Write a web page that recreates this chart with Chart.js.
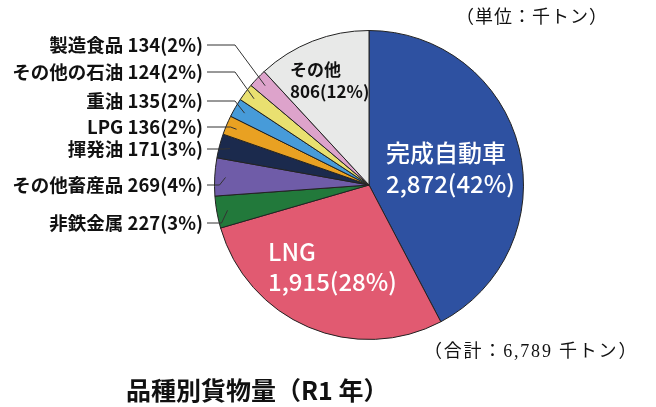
<!DOCTYPE html>
<html>
<head>
<meta charset="utf-8">
<script src="https://cdn.jsdelivr.net/npm/chart.js@4"></script>
<style>
    body { margin: 0; background: #fff; }
    #wrap { position: relative; width: 656px; height: 407px; }
</style>
</head>
<body>
<div id="wrap"><canvas id="chart" width="656" height="407"></canvas></div>
<script>
// data (千トン)
const names = ['完成自動車', 'LNG', '非鉄金属', 'その他畜産品', '揮発油', 'LPG', '重油', 'その他の石油', '製造食品', 'その他'];
const values = [2872, 1915, 227, 269, 171, 136, 135, 124, 134, 806];
const percents = [42, 28, 3, 4, 3, 2, 2, 2, 2, 12];
const colors = ['#2E51A1', '#E15A71', '#22793B', '#6F5CA8', '#1B2A4D', '#E9A122', '#479BD9', '#E9E070', '#DDA3CB', '#E8E9E8'];
const unitText = '（単位：千トン）';
const totalText = '（合計：6,789 千トン）';
const titleText = '品種別貨物量（R1 年）';

const JP = '"Noto Sans CJK JP", "Noto Sans", sans-serif';
const SERIF = '"Liberation Serif", "Noto Sans CJK JP", serif';

function fmt(v) {
    return v.toLocaleString('en-US');
}

// labels outside on the left: y position of each label
const outside = {
    2: 223, 3: 185, 4: 149, 5: 127, 6: 101, 7: 72, 8: 45
};
// labels inside the slices
const inside = {
    0: { x: 386, y: 153, color: '#fff', size: 24, weight: '500', gap: 31 },
    1: { x: 268, y: 252, color: '#fff', size: 24, weight: '500', gap: 30 },
    9: { x: 290, y: 70, color: '#111', size: 17, weight: 'bold', gap: 22 }
};

const labelPlugin = {
    id: 'labels',
    afterDatasetsDraw(chart) {
        const ctx = chart.ctx;
        const arcs = chart.getDatasetMeta(0).data;
        ctx.save();
        arcs.forEach((arc, i) => {
            const mid = (arc.startAngle + arc.endAngle) / 2;
            if (outside[i] !== undefined) {
                const ly = outside[i];
                const ax = arc.x + Math.cos(mid) * arc.outerRadius * 0.93;
                const ay = arc.y + Math.sin(mid) * arc.outerRadius * 0.93;
                const ex = Math.min(ax - 6, 235);
                ctx.strokeStyle = '#333';
                ctx.lineWidth = 1;
                ctx.beginPath();
                ctx.moveTo(207, ly);
                ctx.lineTo(ex, ly);
                ctx.lineTo(ax, ay);
                ctx.stroke();
                ctx.fillStyle = '#111';
                ctx.font = 'bold 18.5px ' + JP;
                ctx.textAlign = 'right';
                ctx.textBaseline = 'middle';
                ctx.fillText(names[i] + ' ' + fmt(values[i]) + '(' + percents[i] + '%)', 203, ly);
            } else if (inside[i]) {
                const p = inside[i];
                ctx.fillStyle = p.color;
                ctx.font = p.weight + ' ' + p.size + 'px ' + JP;
                ctx.textAlign = 'left';
                ctx.textBaseline = 'middle';
                ctx.fillText(names[i], p.x, p.y);
                ctx.fillText(fmt(values[i]) + '(' + percents[i] + '%)', p.x, p.y + p.gap);
            }
        });
        // notes and title
        ctx.fillStyle = '#111';
        ctx.textBaseline = 'middle';
        ctx.textAlign = 'left';
        ctx.font = '18px ' + SERIF;
        ctx.letterSpacing = '1px';
        ctx.fillText(unitText, 456, 18);
        ctx.letterSpacing = '1.8px';
        ctx.fillText(totalText, 424, 352);
        ctx.letterSpacing = '0px';
        ctx.font = 'bold 25px ' + JP;
        ctx.fillText(titleText, 126, 390);
        ctx.restore();
    }
};

const ctx = document.getElementById('chart').getContext('2d');
const chart = new Chart(ctx, {
    type: 'pie',
    data: {
        labels: names,
        datasets: [{
            data: values,
            backgroundColor: colors,
            borderColor: '#222',
            borderWidth: 1
        }]
    },
    options: {
        responsive: false,
        animation: false,
        layout: {
            padding: { left: 214, right: 132, top: 30, bottom: 67 }
        },
        plugins: {
            legend: { display: false },
            tooltip: { enabled: false }
        }
    },
    plugins: [labelPlugin]
});
</script>
</body>
</html>
